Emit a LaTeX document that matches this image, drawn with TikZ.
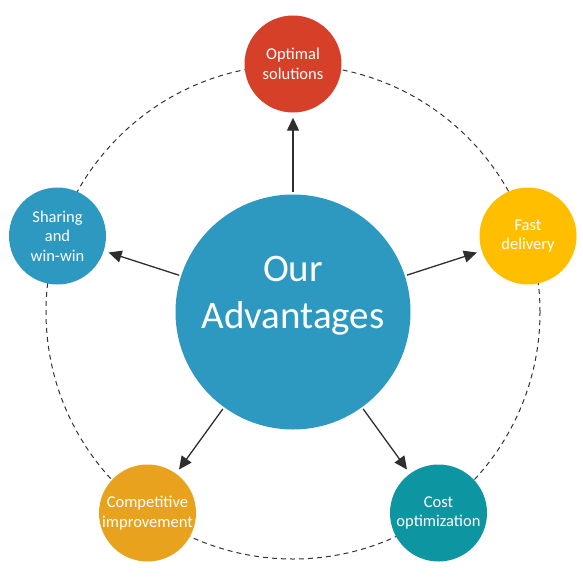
\documentclass[tikz,border=0pt]{standalone}
\usepackage{fontspec}
\setmainfont{Carlito}
\usetikzlibrary{arrows.meta}
\definecolor{cred}{HTML}{D63F28}
\definecolor{cblue}{HTML}{2D99C1}
\definecolor{cyellow}{HTML}{FFBF00}
\definecolor{corange}{HTML}{E8A21E}
\definecolor{cteal}{HTML}{0D96A2}
\definecolor{carrow}{HTML}{2E2E2E}
\definecolor{cdash}{HTML}{333333}
\tikzset{
  small/.style={circle, minimum size=97pt, inner sep=0pt, text=white, align=center,
    font=\fontsize{16.5}{19.5}\selectfont},
  bigc/.style={circle, fill=cblue, minimum size=235pt, inner sep=0pt},
  bigtext/.style={text=white, align=center, font=\fontsize{39}{47}\selectfont},
  conn/.style={draw=carrow, line width=1.3pt, -{Triangle[length=13pt,width=12pt]},
    shorten <=2pt, shorten >=5pt},
  ring/.style={draw=cdash, line width=1pt, dash pattern=on 5pt off 4pt}
}
\begin{document}
\begin{tikzpicture}[x=1pt,y=-1pt]
\useasboundingbox (0,0) rectangle (583,586);
\coordinate (o) at (293,312);
\draw[ring] (o) circle[radius=247pt];
\node[bigc] (c) at (o) {};
\node[bigtext] (ct) at (293,296) {Our\\Advantages};
\node[small, fill=cred] (n1) at (293,64) {Optimal\\solutions};
\node[small, fill=cyellow] (n2) at (528,236) {Fast\\delivery};
\node[small, fill=cteal] (n3) at (438.5,513) {Cost\\optimization};
\node[small, fill=corange] (n4) at (147.5,513) {Competitive\\improvement};
\node[small, fill=cblue] (n5) at (57.5,236) {Sharing\\and\\win-win};
\foreach \n in {n1,n2,n3,n4,n5}{
  \draw[conn] (c) -- (\n);
}
\end{tikzpicture}
\end{document}
